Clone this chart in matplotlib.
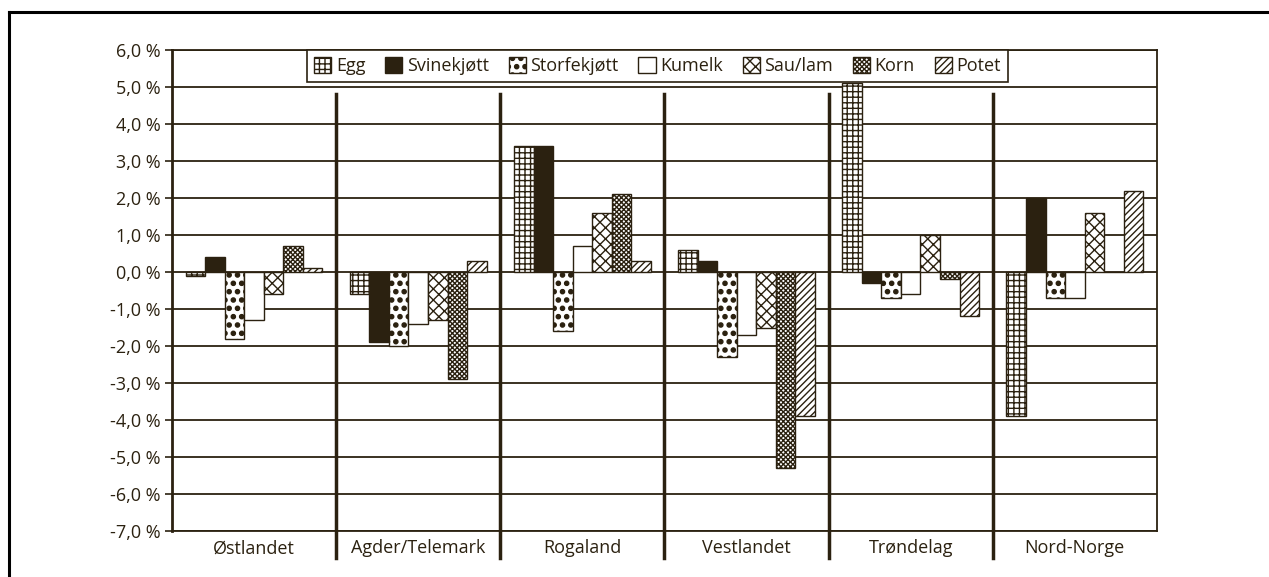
import matplotlib.pyplot as plt
import matplotlib.hatch
import numpy as np
from matplotlib.lines import Line2D
from matplotlib.ticker import FuncFormatter

plt.rcParams['font.family'] = ['Open Sans', 'DejaVu Sans']
plt.rcParams['hatch.linewidth'] = 1.0
# bigger filled dots for the '.' hatch
matplotlib.hatch.SmallFilledCircles.size = 0.25

# Data (percent change per region and product)
regions = ['Østlandet', 'Agder/Telemark', 'Rogaland', 'Vestlandet', 'Trøndelag', 'Nord-Norge']
products = ['Egg', 'Svinekjøtt', 'Storfekjøtt', 'Kumelk', 'Sau/lam', 'Korn', 'Potet']

egg = [-0.1, -0.6, 3.4, 0.6, 5.1, -3.9]
svinekjott = [0.4, -1.9, 3.4, 0.3, -0.3, 2.0]
storfekjott = [-1.8, -2.0, -1.6, -2.3, -0.7, -0.7]
kumelk = [-1.3, -1.4, 0.7, -1.7, -0.6, -0.7]
sau_lam = [-0.6, -1.3, 1.6, -1.5, 1.0, 1.6]
korn = [0.7, -2.9, 2.1, -5.3, -0.2, 0.0]
potet = [0.1, 0.3, 0.3, -3.9, -1.2, 2.2]

series = [egg, svinekjott, storfekjott, kumelk, sau_lam, korn, potet]

dark = '#2b2110'
fills = ['white', dark, 'white', 'white', 'white', 'white', 'white']
hatches = ['+++', None, '..', None, 'xxx', 'xxxxxxx', '/////']

fig = plt.figure(figsize=(12.69, 5.77), dpi=100)
ax = fig.add_axes([0.1355, 0.0797, 0.7762, 0.8336])

x = np.arange(len(regions))
width = 0.119
for i, (vals, name) in enumerate(zip(series, products)):
    offset = (i - 3) * width
    ax.bar(x + offset, vals, width, color=fills[i], edgecolor=dark,
           hatch=hatches[i], linewidth=1.0, label=name, zorder=3)

# axes styling
ax.set_ylim(-7, 6)
ax.set_xlim(-0.5, len(regions) - 0.5)
ax.set_yticks(np.arange(-7, 7, 1))
ax.yaxis.set_major_formatter(FuncFormatter(lambda v, p: f'{v:.1f} %'.replace('.', ',')))
ax.grid(axis='y', color=dark, linewidth=1.3, zorder=1)
ax.set_xticks(x)
ax.set_xticklabels(regions)
ax.tick_params(axis='x', length=0, pad=6, labelsize=13, colors=dark)
ax.tick_params(axis='y', length=5, width=1.2, labelsize=13, colors=dark, pad=3)
for s in ax.spines.values():
    s.set_color(dark)
    s.set_linewidth(1.3)
ax.spines['left'].set_linewidth(2.0)

# thick separators between regions
for k in range(1, len(regions)):
    ax.plot([k - 0.5, k - 0.5], [4.8, -7.72], color=dark, linewidth=2.5,
            clip_on=False, zorder=4)

leg = ax.legend(ncol=7, loc='upper center', bbox_to_anchor=(0.493, 1.0),
                borderaxespad=0, fancybox=False, edgecolor=dark, fontsize=13,
                handlelength=0.95, handleheight=0.95, handletextpad=0.25,
                columnspacing=1.1, borderpad=0.4, framealpha=1)
leg.get_frame().set_linewidth(1.2)
for t in leg.get_texts():
    t.set_color(dark)

# outer frame lines
fig.add_artist(Line2D([9 / 1269, 1], [1 - 12 / 577, 1 - 12 / 577], color='black', linewidth=2.2))
fig.add_artist(Line2D([9 / 1269, 9 / 1269], [0, 1 - 12 / 577], color='black', linewidth=2.2))

fig.savefig('out.png', dpi=100)
